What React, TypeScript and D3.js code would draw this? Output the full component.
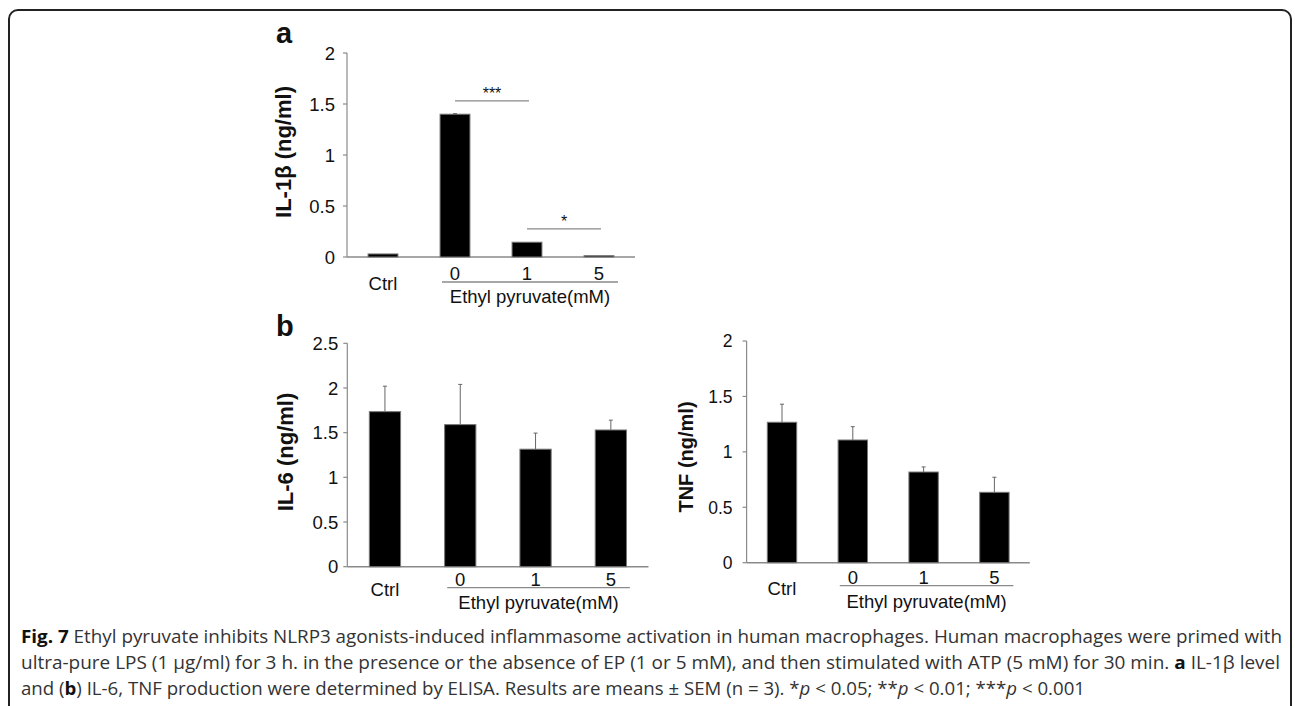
import React from "react";
import * as d3 from "d3";

// ---------- data ----------
const categories = ["Ctrl", "0", "1", "5"];
const il1bValues = [0.03, 1.4, 0.145, 0.013];
const il1bErrors = [0, 0.006, 0, 0];
const il1bTicks = [0, 0.5, 1, 1.5, 2];

const il6Values = [1.735, 1.59, 1.315, 1.53];
const il6Errors = [0.285, 0.45, 0.18, 0.11];
const il6Ticks = [0, 0.5, 1, 1.5, 2, 2.5];

const tnfValues = [1.267, 1.107, 0.818, 0.635];
const tnfErrors = [0.163, 0.12, 0.046, 0.136];
const tnfTicks = [0, 0.5, 1, 1.5, 2];

const groupLabel = "Ethyl pyruvate(mM)";
// significance: [fromCategory, toCategory, level, label]
const il1bSignif: [string, string, number, string][] = [
  ["0", "1", 1.53, "***"],
  ["1", "5", 0.275, "*"],
];

type Seg = { t: string; b?: boolean; i?: boolean };
const captionLines: Seg[][] = [
  [
    { t: "Fig. 7", b: true },
    { t: " Ethyl pyruvate inhibits NLRP3 agonists-induced inflammasome activation in human macrophages. Human macrophages were primed with" },
  ],
  [
    { t: "ultra-pure LPS (1 μg/ml) for 3 h. in the presence or the absence of EP (1 or 5 mM), and then stimulated with ATP (5 mM) for 30 min. " },
    { t: "a", b: true },
    { t: " IL-1β level" },
  ],
  [
    { t: "and (" },
    { t: "b", b: true },
    { t: ") IL-6, TNF production were determined by ELISA. Results are means ± SEM (n = 3). *" },
    { t: "p", i: true },
    { t: " < 0.05; **" },
    { t: "p", i: true },
    { t: " < 0.01; ***" },
    { t: "p", i: true },
    { t: " < 0.001" },
  ],
];

const FONT = "'Liberation Sans', Arial, Helvetica, sans-serif";
const AXIS = "#8a8a8a";
const INK = "#111";

type PanelProps = {
  values: number[];
  errors: number[];
  ticks: number[];
  yMax: number;
  x0: number;
  x1: number;
  yZero: number;
  yTop: number;
  ylabel: string;
  ylabelPos: [number, number];
  ylabelSize: number;
  tickGap: number;
  off: { num: number; ctrl: number; line: number; grp: number };
  tickSize: number;
  signif?: [string, string, number, string][];
};

function Panel(p: PanelProps) {
  const x = d3.scaleBand<string>().domain(categories).range([p.x0, p.x1]).padding(0);
  const y = d3.scaleLinear().domain([0, p.yMax]).range([p.yZero, p.yTop]);
  const step = x.step();
  const bw = step * 0.415;
  const cx = (c: string) => (x(c) as number) + step / 2;
  const fmt = (v: number) => String(v);
  return (
    <g>
      {/* y axis */}
      <line x1={p.x0} x2={p.x0} y1={y(0)} y2={y(p.yMax)} stroke={AXIS} strokeWidth={1.2} />
      {p.ticks.map((t) => (
        <g key={t}>
          <line x1={p.x0 - 4} x2={p.x0} y1={y(t)} y2={y(t)} stroke={AXIS} strokeWidth={1.2} />
          <text
            x={p.x0 - p.tickGap}
            y={y(t)}
            dy="0.36em"
            textAnchor="end"
            fontSize={p.tickSize}
            fill={INK}
          >
            {fmt(t)}
          </text>
        </g>
      ))}
      {/* x axis */}
      <line x1={p.x0} x2={p.x1} y1={y(0)} y2={y(0)} stroke={AXIS} strokeWidth={1.4} />
      {/* bars */}
      {categories.map((c, i) => (
        <g key={c}>
          {p.errors[i] > 0 && (
            <g>
              <line
                x1={cx(c)}
                x2={cx(c)}
                y1={y(p.values[i])}
                y2={y(p.values[i] + p.errors[i])}
                stroke="#666"
                strokeWidth={1}
              />
              <line
                x1={cx(c) - 2}
                x2={cx(c) + 2}
                y1={y(p.values[i] + p.errors[i])}
                y2={y(p.values[i] + p.errors[i])}
                stroke="#666"
                strokeWidth={1}
              />
            </g>
          )}
          <rect
            x={cx(c) - bw / 2}
            y={y(p.values[i])}
            width={bw}
            height={y(0) - y(p.values[i])}
            fill="#000"
            stroke="#777"
            strokeWidth={1}
          />
        </g>
      ))}
      {/* x labels */}
      <text x={cx("Ctrl")} y={y(0) + p.off.ctrl} textAnchor="middle" fontSize={18.5} fill={INK}>
        Ctrl
      </text>
      {categories.slice(1).map((c) => (
        <text key={c} x={cx(c)} y={y(0) + p.off.num} textAnchor="middle" fontSize={18.5} fill={INK}>
          {c}
        </text>
      ))}
      <line
        x1={cx("0") - 13}
        x2={cx("5") + 19}
        y1={y(0) + p.off.line}
        y2={y(0) + p.off.line}
        stroke={AXIS}
        strokeWidth={1.3}
      />
      <text
        x={(cx("0") + cx("5")) / 2 + 3}
        y={y(0) + p.off.grp}
        textAnchor="middle"
        fontSize={18.5}
        fill={INK}
      >
        {groupLabel}
      </text>
      {/* y label */}
      <text
        transform={`translate(${p.ylabelPos[0]},${p.ylabelPos[1]}) rotate(-90)`}
        dy="0.36em"
        textAnchor="middle"
        fontSize={p.ylabelSize}
        fontWeight="bold"
        fill={INK}
      >
        {p.ylabel}
      </text>
      {/* significance */}
      {(p.signif || []).map(([a, b, lvl, lab]) => (
        <g key={lab}>
          <line x1={cx(a)} x2={cx(b) + 2} y1={y(lvl)} y2={y(lvl)} stroke={AXIS} strokeWidth={1.3} />
          <text
            x={(cx(a) + cx(b)) / 2 + 1}
            y={y(lvl) - 2}
            textAnchor="middle"
            fontSize={16}
            fill={INK}
          >
            {lab}
          </text>
        </g>
      ))}
    </g>
  );
}

const captionX = 21;
const captionBaselines = [643, 669, 695];
const captionWidths = [1261, 1259, 1064];

export default function App() {
  return (
    <svg
      width={1295}
      height={706}
      style={{ position: "absolute", left: 0, top: 0, background: "#fff" }}
      fontFamily={FONT}
    >
      <rect x={0} y={0} width={1295} height={706} fill="#fff" />
      <rect x={9} y={10} width={1282} height={740} rx={9} ry={9} fill="none" stroke="#222" strokeWidth={2} />

      <text x={276} y={43} fontSize={29} fontWeight="bold" fill={INK}>
        a
      </text>
      <text x={276} y={336} fontSize={29} fontWeight="bold" fill={INK}>
        b
      </text>

      <Panel
        values={il1bValues}
        errors={il1bErrors}
        ticks={il1bTicks}
        yMax={2}
        x0={347}
        x1={635}
        yZero={257}
        yTop={53}
        ylabel="IL-1β (ng/ml)"
        ylabelPos={[283, 152]}
        ylabelSize={22}
        tickGap={12}
        tickSize={18.5}
        off={{ num: 23, ctrl: 33, line: 25, grp: 46 }}
        signif={il1bSignif}
      />
      <Panel
        values={il6Values}
        errors={il6Errors}
        ticks={il6Ticks}
        yMax={2.5}
        x0={347.3}
        x1={648.5}
        yZero={566.7}
        yTop={343.3}
        ylabel="IL-6 (ng/ml)"
        ylabelPos={[285, 452]}
        ylabelSize={22}
        tickGap={9}
        tickSize={18.5}
        off={{ num: 19, ctrl: 29, line: 21, grp: 42 }}
      />
      <Panel
        values={tnfValues}
        errors={tnfErrors}
        ticks={tnfTicks}
        yMax={2}
        x0={746.6}
        x1={1029.8}
        yZero={562.7}
        yTop={341}
        ylabel="TNF (ng/ml)"
        ylabelPos={[686, 457]}
        ylabelSize={20}
        tickGap={14}
        tickSize={17.5}
        off={{ num: 21, ctrl: 32, line: 23, grp: 45 }}
      />

      {captionLines.map((segs, li) => (
        <text
          key={li}
          x={captionX}
          y={captionBaselines[li]}
          fontFamily="'Open Sans', 'Noto Sans', sans-serif"
          fontSize={17.5}
          fill="#333"
          textLength={captionWidths[li]}
          lengthAdjust="spacingAndGlyphs"
        >
          {segs.map((s, si) => (
            <tspan key={si} fontWeight={s.b ? "bold" : "normal"} fontStyle={s.i ? "italic" : "normal"} fill={s.b ? "#111" : "#333"}>
              {s.t}
            </tspan>
          ))}
        </text>
      ))}
    </svg>
  );
}
